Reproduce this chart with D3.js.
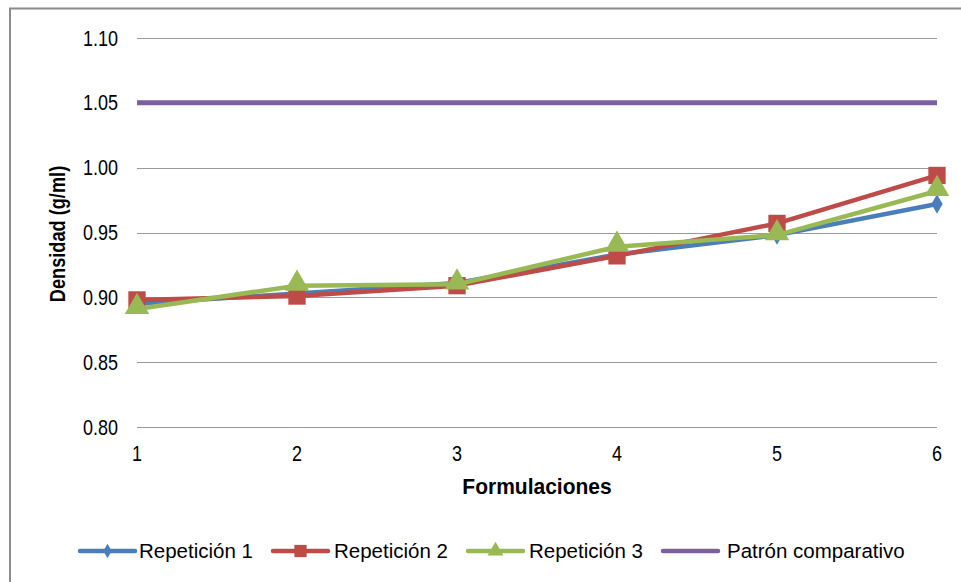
<!DOCTYPE html>
<html>
<head>
<meta charset="utf-8">
<script src="https://cdn.jsdelivr.net/npm/d3@7"></script>
<style>
  body { margin: 0; background: #fff; }
  svg text { font-family: "Liberation Sans", Arial, sans-serif; fill: #000; }
</style>
</head>
<body>
<div id="chart"></div>
<script>
const formulaciones = [1, 2, 3, 4, 5, 6]
const repeticion1 = [0.895, 0.903, 0.911, 0.933, 0.948, 0.972]
const repeticion2 = [0.898, 0.901, 0.909, 0.932, 0.957, 0.994]
const repeticion3 = [0.891, 0.909, 0.910, 0.939, 0.948, 0.982]
const patron = [1.05, 1.05, 1.05, 1.05, 1.05, 1.05]
const yTicks = [0.80, 0.85, 0.90, 0.95, 1.00, 1.05, 1.10]

const series = [
    {name: "Repetición 1", values: repeticion1, color: "#4a7ebb", marker: "diamond"},
    {name: "Repetición 2", values: repeticion2, color: "#be4b48", marker: "square"},
    {name: "Repetición 3", values: repeticion3, color: "#98b954", marker: "triangle"},
    {name: "Patrón comparativo", values: patron, color: "#7d5fa0", marker: null}
]

const width = 961
const height = 582

const svg = d3.select("#chart").append("svg")
    .attr("width", width)
    .attr("height", height)

// chart frame (only top and left edges are visible in the crop)
svg.append("path")
    .attr("d", "M10,600 V8.5 H970")
    .attr("fill", "none")
    .attr("stroke", "#8c8c8c")
    .attr("stroke-width", 2)

const x = d3.scaleLinear().domain([1, 6]).range([137, 937])
const y = d3.scaleLinear().domain([0.80, 1.10]).range([427, 38])

// gridlines
svg.append("g")
    .selectAll("line")
    .data(yTicks)
    .join("line")
    .attr("x1", x(1))
    .attr("x2", x(6))
    .attr("y1", d => Math.round(y(d)) + 0.5)
    .attr("y2", d => Math.round(y(d)) + 0.5)
    .attr("stroke", "#9a9a9a")
    .attr("stroke-width", 1)

// the source text is a bit taller than it is wide, so labels get a y stretch
svg.append("g")
    .selectAll("text")
    .data(yTicks)
    .join("text")
    .attr("transform", d => `translate(118,${y(d) + 7.5}) scale(1,1.2)`)
    .attr("text-anchor", "end")
    .attr("font-size", 18)
    .text(d => d.toFixed(2))

svg.append("g")
    .selectAll("text")
    .data(formulaciones)
    .join("text")
    .attr("transform", d => `translate(${x(d)},461) scale(1,1.2)`)
    .attr("text-anchor", "middle")
    .attr("font-size", 18)
    .text(d => d)

svg.append("text")
    .attr("transform", "translate(537,494) scale(1,1.05)")
    .attr("text-anchor", "middle")
    .attr("font-size", 21)
    .attr("font-weight", "bold")
    .text("Formulaciones")

svg.append("text")
    .attr("transform", "translate(65,234) rotate(-90) scale(1,1.17)")
    .attr("text-anchor", "middle")
    .attr("font-size", 18.2)
    .attr("font-weight", "bold")
    .text("Densidad (g/ml)")

const line = d3.line()
    .x((d, i) => x(formulaciones[i]))
    .y(d => y(d))

const symbolFor = {
    diamond: d3.symbol().type(d3.symbolDiamond).size(110),
    square: d3.symbol().type(d3.symbolSquare).size(300),
    triangle: d3.symbol().type(d3.symbolTriangle).size(260)
}

// purple first, then series 1..3 so green ends on top
const drawOrder = [series[3], series[0], series[1], series[2]]
drawOrder.forEach(s => {
    svg.append("path")
        .datum(s.values)
        .attr("fill", "none")
        .attr("stroke", s.color)
        .attr("stroke-width", s.marker ? 4.5 : 5)
        .attr("stroke-linejoin", "round")
        .attr("d", line)
    if (s.marker) {
        svg.append("g")
            .selectAll("path")
            .data(s.values)
            .join("path")
            .attr("transform", (d, i) => `translate(${x(formulaciones[i])},${y(d) + (s.marker === "triangle" ? -2 : 0)})`)
            .attr("d", symbolFor[s.marker])
            .attr("fill", s.color)
    }
})

// legend
const legendX = [80, 273, 468, 663]
const legendTextGap = [59, 61, 61, 64]
const smallSymbol = {
    diamond: d3.symbol().type(d3.symbolDiamond).size(60),
    square: d3.symbol().type(d3.symbolSquare).size(150),
    triangle: d3.symbol().type(d3.symbolTriangle).size(110)
}
const legend = svg.append("g")
series.forEach((s, i) => {
    const g = legend.append("g").attr("transform", `translate(${legendX[i]},551)`)
    g.append("line")
        .attr("x1", 0).attr("x2", 55)
        .attr("stroke", s.color)
        .attr("stroke-width", 4.5)
        .attr("stroke-linecap", "round")
    if (s.marker) {
        g.append("path")
            .attr("transform", "translate(27.5,0)")
            .attr("d", smallSymbol[s.marker])
            .attr("fill", s.color)
    }
    g.append("text")
        .attr("x", legendTextGap[i])
        .attr("y", 7.3)
        .attr("font-size", 20.5)
        .text(s.name)
})
</script>
</body>
</html>
